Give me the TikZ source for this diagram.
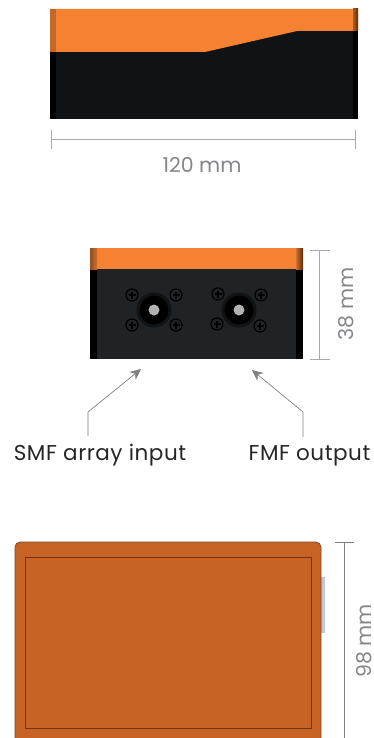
\documentclass[tikz,border=0pt]{standalone}
\usepackage{fontspec}
\setmainfont{Poppins}
\usetikzlibrary{arrows.meta}
\definecolor{bodyorange}{HTML}{F58232}
\definecolor{lidorange}{HTML}{C76324}
\definecolor{lidedge}{HTML}{6E3614}
\definecolor{bodyblack}{HTML}{0F1315}
\definecolor{facedark}{HTML}{1F2326}
\definecolor{dimgray}{HTML}{A9A9A9}
\definecolor{dimtext}{HTML}{85858A}
\begin{document}
\begin{tikzpicture}[
    x=1pt, y=-1pt,
    dimline/.style={draw=dimgray, line width=0.9pt},
    dimlabel/.style={text=dimtext, font=\fontsize{20.5}{24}\selectfont, inner sep=0pt},
    portlabel/.style={text=black!85, anchor=base, inner sep=0pt,
        font=\fontsize{21.5}{25}\addfontfeatures{LetterSpace=2.5}\selectfont},
    callout/.style={draw=gray, line width=0.7pt, -{Stealth[length=11pt, width=10pt]}},
    screw/.style={circle, draw=black, fill=facedark, line width=1.2pt, minimum size=12pt, inner sep=0pt,
        path picture={\draw[black, line width=1.2pt]
            ([xshift=-3.5pt]path picture bounding box.center) -- ([xshift=3.5pt]path picture bounding box.center)
            ([yshift=-3.5pt]path picture bounding box.center) -- ([yshift=3.5pt]path picture bounding box.center);}},
    port/.style={circle, fill=black, draw=black!45!facedark, line width=3pt, minimum size=32pt, inner sep=0pt},
    porthole/.style={circle, fill=gray!60!white, minimum size=11pt, inner sep=0pt}
]
\useasboundingbox (0,0) rectangle (374,738);

% Top view
\fill[bodyblack] (50,9) rectangle (358,119.5);
\fill[bodyorange] (50,9) -- (358,9) -- (358,31) -- (297,31) -- (205,52) -- (50,52) -- cycle;
\fill[black] (50,52) rectangle (56,119.5);
\fill[black] (353,31) rectangle (358,119.5);
\fill[bodyorange!80!black] (50,9) rectangle (56,52);
\shade[left color=bodyorange!70!black, right color=bodyorange!35!black] (353,9) rectangle (358,31);

% Width dimension
\coordinate (wl) at (51,139);
\coordinate (wr) at (355,139);
\draw[dimline] (wl) -- (wr);
\draw[dimline] (51,130) -- (51,149);
\draw[dimline] (355,130) -- (355,149);
\node[dimlabel] (width) at (202,165) {120 mm};

% Front view
\fill[facedark] (90,248) rectangle (303,359);
\fill[bodyorange] (90,248) rectangle (303,269);
\fill[black] (90,269) rectangle (97,359);
\fill[black] (296,269) rectangle (303,359);
\shade[left color=bodyorange!60!black, right color=bodyorange!85!black] (90,248) rectangle (97,269);
\shade[left color=bodyorange!85!black, right color=bodyorange!35!black] (296,248) rectangle (303,269);

% Ports
\node[port] (p1) at (154,310) {};
\node[porthole] (h1) at (154,310) {};
\node[port] (p2) at (239,310) {};
\node[porthole] (h2) at (239,310) {};

% Screws
\node[screw] (s1) at (132,295) {};
\node[screw] (s2) at (176,295) {};
\node[screw] (s3) at (132,325) {};
\node[screw] (s4) at (176,325) {};
\node[screw] (s5) at (218,294) {};
\node[screw] (s6) at (261,295) {};
\node[screw] (s7) at (217,324) {};
\node[screw] (s8) at (260,326) {};

% Height dimension
\coordinate (hb) at (319,250);
\coordinate (he) at (319,359);
\draw[dimline] (hb) -- (he);
\draw[dimline] (310,250) -- (330,250);
\draw[dimline] (310,359) -- (330,359);
\node[dimlabel, rotate=90] (height) at (346,304) {38 mm};

% Callouts
\node[portlabel] (smf) at (100,460) {SMF array input};
\node[portlabel] (fmf) at (309.5,460) {FMF output};
\coordinate (smfbend) at (88,412);
\coordinate (smftip) at (141,369);
\coordinate (fmfbend) at (303,412);
\coordinate (fmftip) at (252,370);
\draw[callout] (88,436) -- (smfbend) -- (smftip);
\draw[callout] (303,437) -- (fmfbend) -- (fmftip);

% Bottom view
\fill[blue!30!gray!35!white] (321,577) rectangle (325,633);
\draw[fill=lidorange, draw=lidedge!70!gray, line width=0.7pt, rounded corners=5pt] (15,542) rectangle (321,760);
\draw[draw=lidedge, line width=0.8pt] (25,557) rectangle (311,728);

% Depth dimension
\coordinate (db) at (344,542.5);
\coordinate (de) at (344,738);
\draw[dimline, draw=gray] (db) -- (de);
\draw[dimline, draw=gray] (335,542.5) -- (354,542.5);
\node[dimlabel, rotate=90] (depth) at (364,641) {98 mm};
\end{tikzpicture}
\end{document}
